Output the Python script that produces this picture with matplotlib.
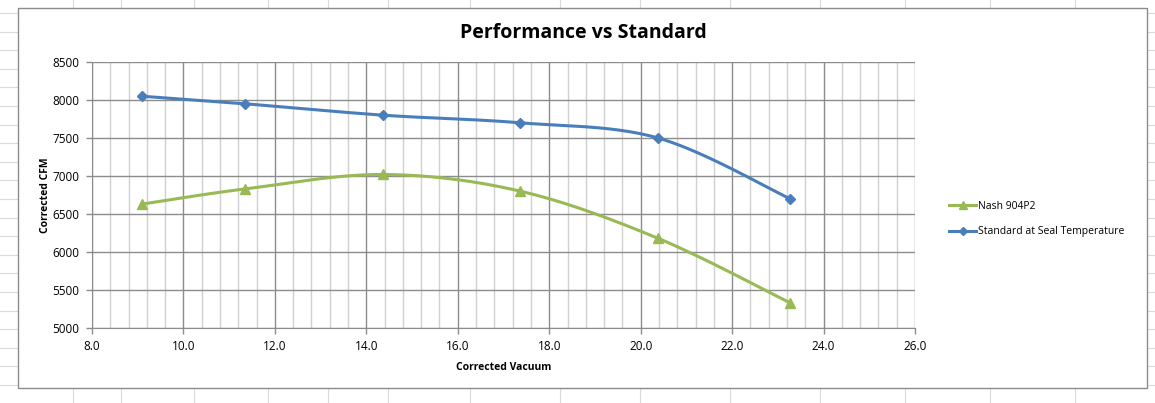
import numpy as np
import matplotlib
matplotlib.use("Agg")
import matplotlib.pyplot as plt
from matplotlib.lines import Line2D
from matplotlib.patches import Rectangle

plt.rcParams['font.family'] = ['Open Sans', 'DejaVu Sans']

vacuum = [9.09, 11.35, 14.37, 17.37, 20.38, 23.27]
nash_cfm = [6630, 6830, 7020, 6800, 6180, 5330]
standard_cfm = [8050, 7950, 7800, 7700, 7500, 6700]
series_names = ["Nash 904P2", "Standard at Seal Temperature"]
x_ticks = [8.0, 10.0, 12.0, 14.0, 16.0, 18.0, 20.0, 22.0, 24.0, 26.0]
y_ticks = [5000, 5500, 6000, 6500, 7000, 7500, 8000, 8500]

W, H = 1155, 403


def smooth(xs, ys, n=40):
    """Excel-style smoothed line: cubic Bezier segments with cardinal tangents."""
    xs = np.asarray(xs, float)
    ys = np.asarray(ys, float)
    # work in pixel-like space so tangents are scale-aware
    sx, sy = 45.7, 0.076
    px, py = xs * sx, ys * sy
    pts = np.column_stack([px, py])
    out = []
    m = len(pts)
    for i in range(m - 1):
        p0 = pts[i - 1] if i > 0 else pts[i]
        p1, p2 = pts[i], pts[i + 1]
        p3 = pts[i + 2] if i + 2 < m else pts[i + 1]
        c1 = p1 + (p2 - p0) / 6.0
        c2 = p2 - (p3 - p1) / 6.0
        t = np.linspace(0, 1, n)[:, None]
        seg = ((1 - t) ** 3) * p1 + 3 * ((1 - t) ** 2) * t * c1 + 3 * (1 - t) * t ** 2 * c2 + t ** 3 * p2
        out.append(seg if i == 0 else seg[1:])
    out = np.vstack(out)
    return out[:, 0] / sx, out[:, 1] / sy


fig = plt.figure(figsize=(W / 100, H / 100), dpi=100)

# spreadsheet cell grid behind the chart
for xc in [73, 121, 194, 268, 328, 388, 470, 560, 640, 730, 820, 905, 990, 1075]:
    fig.add_artist(Line2D([xc / W, xc / W], [0, 1], color='#dadada', lw=0.8, zorder=0))
for yr in np.arange(13, 403, 18.6):
    fig.add_artist(Line2D([0, 1], [1 - yr / H, 1 - yr / H], color='#dadada', lw=0.8, zorder=0))

# chart area frame
fig.add_artist(Rectangle((18 / W, 1 - 388 / H), (1147 - 18) / W, (388 - 8) / H,
                         facecolor='white', edgecolor='#8c8c8c', lw=1.0, zorder=1))

ax = fig.add_axes([92 / W, 1 - 328 / H, (915 - 92) / W, (328 - 62) / H], zorder=2)
ax.set_facecolor('white')
ax.set_xlim(8, 26)
ax.set_ylim(5000, 8500)
ax.set_xticks(x_ticks)
ax.set_xticklabels([f"{v:.1f}" for v in x_ticks])
ax.set_yticks(y_ticks)
ax.set_yticklabels([str(v) for v in y_ticks])
ax.set_xticks(np.arange(8, 26.01, 0.4), minor=True)
ax.grid(which='major', axis='both', color='#8c8c8c', lw=1.0)
ax.grid(which='minor', axis='x', color='#d0d0d0', lw=1.0)
ax.set_axisbelow(True)
ax.tick_params(axis='both', which='major', labelsize=8.5, colors='#8c8c8c', labelcolor='black',
               length=4, width=1)
ax.tick_params(axis='both', which='minor', length=0)
ax.tick_params(axis='y', pad=5)
ax.tick_params(axis='x', pad=5)
for s in ['top', 'right']:
    ax.spines[s].set_visible(False)
for s in ['left', 'bottom']:
    ax.spines[s].set_color('#8c8c8c')

green = '#98B954'
blue = '#4A7EBB'

gx, gy = smooth(vacuum, nash_cfm)
ax.plot(gx, gy, color=green, lw=2.2, zorder=3)
ax.plot(vacuum, nash_cfm, ls='none', marker='^', ms=7, color=green, zorder=4)
bx, by = smooth(vacuum, standard_cfm)
ax.plot(bx, by, color=blue, lw=2.2, zorder=3)
ax.plot(vacuum, standard_cfm, ls='none', marker='D', ms=5.5, color=blue, zorder=4)

ax.set_xlabel("Corrected Vacuum", fontsize=7.5, fontweight='bold', labelpad=6)
ax.set_ylabel("Corrected CFM", fontsize=7.5, fontweight='bold', labelpad=1)

fig.text(583 / W, 1 - 33 / H, "Performance vs Standard", ha='center', va='center',
         fontsize=14, fontweight='bold', zorder=3)

handles = [Line2D([], [], color=green, lw=2.2, marker='^', ms=6),
           Line2D([], [], color=blue, lw=2.2, marker='D', ms=4.5)]
fig.legend(handles, series_names, loc='center left', bbox_to_anchor=(940 / W, 1 - 219 / H),
           frameon=False, fontsize=7.5, handlelength=2.6, handletextpad=0.1, labelspacing=1.4)

fig.savefig("out.png", dpi=100)
